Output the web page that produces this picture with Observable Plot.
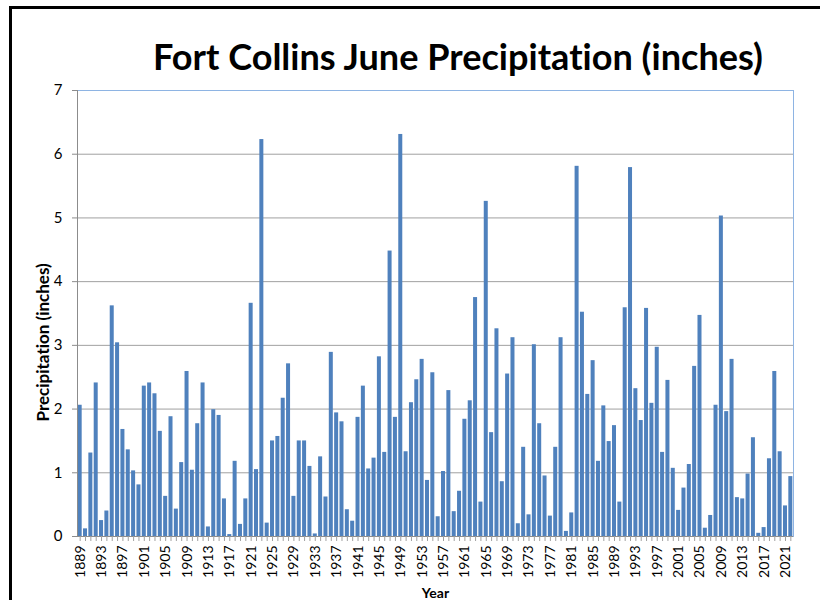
<!DOCTYPE html>
<html><head><meta charset="utf-8">
<script src="https://cdn.jsdelivr.net/npm/d3@7"></script>
<script src="https://cdn.jsdelivr.net/npm/@observablehq/plot@0.6"></script>
<style>
body{margin:0;background:#fff;}
#wrap{position:relative;width:820px;height:600px;overflow:hidden;background:#fff;}
#border{position:absolute;left:9px;top:6px;width:830px;height:620px;border-left:3px solid #000;border-top:3px solid #000;}
#title{position:absolute;left:153px;top:38px;font-family:Lato,sans-serif;font-weight:bold;font-size:36px;line-height:1;white-space:nowrap;transform-origin:0 0;color:#000;font-variant-ligatures:none;}
#chart{position:absolute;left:0;top:0;}
#chart svg text{font-variant-ligatures:none;}
</style></head>
<body>
<div id="wrap"><div id="border"></div><div id="chart"></div><div id="title">Fort Collins June Precipitation (inches)</div></div>
<script>
const years = [
1889,1890,1891,1892,1893,1894,1895,1896,1897,1898,1899,1900,1901,1902,1903,1904,1905,1906,1907,1908,
1909,1910,1911,1912,1913,1914,1915,1916,1917,1918,1919,1920,1921,1922,1923,1924,1925,1926,1927,1928,
1929,1930,1931,1932,1933,1934,1935,1936,1937,1938,1939,1940,1941,1942,1943,1944,1945,1946,1947,1948,
1949,1950,1951,1952,1953,1954,1955,1956,1957,1958,1959,1960,1961,1962,1963,1964,1965,1966,1967,1968,
1969,1970,1971,1972,1973,1974,1975,1976,1977,1978,1979,1980,1981,1982,1983,1984,1985,1986,1987,1988,
1989,1990,1991,1992,1993,1994,1995,1996,1997,1998,1999,2000,2001,2002,2003,2004,2005,2006,2007,2008,
2009,2010,2011,2012,2013,2014,2015,2016,2017,2018,2019,2020,2021,2022];
const precip = [
2.06,0.12,1.31,2.41,0.25,0.40,3.62,3.04,1.68,1.36,1.03,0.81,2.36,2.41,2.24,1.65,0.63,1.88,0.43,1.16,
2.59,1.04,1.77,2.41,0.15,1.99,1.90,0.59,0.03,1.18,0.19,0.59,3.66,1.05,6.23,0.21,1.50,1.57,2.17,2.71,
0.63,1.50,1.50,1.10,0.04,1.25,0.62,2.89,1.94,1.80,0.42,0.24,1.87,2.36,1.06,1.23,2.82,1.32,4.48,1.87,
6.31,1.33,2.10,2.46,2.78,0.88,2.57,0.31,1.02,2.29,0.39,0.71,1.84,2.13,3.75,0.54,5.26,1.63,3.26,0.86,
2.55,3.12,0.20,1.40,0.34,3.01,1.77,0.95,0.32,1.40,3.12,0.08,0.37,5.81,3.52,2.23,2.76,1.18,2.05,1.49,
1.74,0.54,3.59,5.79,2.32,1.82,3.58,2.09,2.97,1.32,2.45,1.07,0.41,0.76,1.13,2.67,3.47,0.13,0.33,2.06,
5.03,1.96,2.78,0.61,0.59,0.98,1.55,0.05,0.14,1.22,2.59,1.33,0.48,0.94];
const xTickLabels = [1889,1893,1897,1901,1905,1909,1913,1917,1921,1925,1929,1933,1937,1941,1945,1949,
1953,1957,1961,1965,1969,1973,1977,1981,1985,1989,1993,1997,2001,2005,2009,2013,2017,2021];
const yTicks = [0,1,2,3,4,5,6,7];
const yGrid = [1,2,3,4,5,6];
const yLabel = "Precipitation (inches)";
const xLabel = "Year";

const data = years.map((y, i) => ({year: y, value: precip[i]}));

const chart = Plot.plot({
  width: 820, height: 600,
  marginLeft: 77, marginRight: 27, marginTop: 90, marginBottom: 64,
  style: {fontFamily: "Lato, sans-serif", background: "transparent", color: "#000"},
  x: {type: "band", domain: years, paddingInner: 0.25, paddingOuter: 0.125},
  y: {domain: [0, 7]},
  marks: [
    Plot.gridY(yGrid, {stroke: "#a0a0a0", strokeOpacity: 1}),
    Plot.barY(data, {x: "year", y: "value", fill: "#4f81bd"}),
    Plot.frame({anchor: "top", stroke: "#8eb4e3", strokeOpacity: 1}),
    Plot.frame({anchor: "right", stroke: "#8eb4e3", strokeOpacity: 1}),
    Plot.frame({anchor: "left", stroke: "#8c8c8c", strokeOpacity: 1}),
    Plot.ruleY([0], {stroke: "#8c8c8c"}),
    Plot.axisY(yTicks, {tickSize: 5, tickPadding: 10, fontSize: 15, label: null, stroke: "#8c8c8c", fill: "#000", tickFormat: d => String(d)}),
    Plot.axisX(years, {tickSize: 5, tickFormat: () => "", label: null, stroke: "#a0a0a0"}),
    Plot.axisX(xTickLabels, {tickSize: 0, tickPadding: 9, tickRotate: -90, fontSize: 14, label: null, fill: "#000", tickFormat: d => String(d)}),
    Plot.text([yLabel], {frameAnchor: "left", dx: -34, dy: 108, rotate: -90, fontWeight: "bold", fontSize: 17, lineAnchor: "middle", fill: "#000"}),
    Plot.text([xLabel], {frameAnchor: "bottom", dy: 57, fontWeight: "bold", fontSize: 14, lineAnchor: "middle", fill: "#000"})
  ]
});
document.getElementById("chart").appendChild(chart);

const t = document.getElementById("title");
const w = t.getBoundingClientRect().width;
t.style.transform = `scaleX(${610 / w})`;
</script>
</body></html>
